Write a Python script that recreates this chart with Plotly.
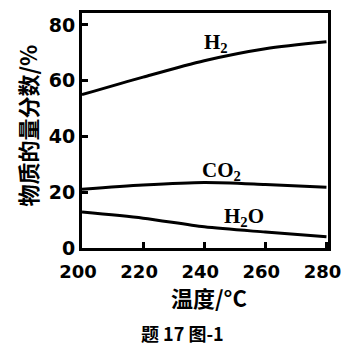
import plotly.graph_objects as go

temps = [200, 220, 240, 260, 280]
h2 = [55, 61.3, 67.2, 71.5, 74]
co2 = [21.1, 22.6, 23.5, 22.8, 21.8]
h2o = [12.9, 10.7, 7.6, 5.7, 4.0]
x_ticks = [200, 220, 240, 260, 280]
y_ticks = [0, 20, 40, 60, 80]

fig = go.Figure()
for ys in (h2, co2, h2o):
    fig.add_trace(go.Scatter(x=temps, y=ys, mode="lines",
                             line=dict(color="black", width=3, shape="spline", smoothing=0.8),
                             showlegend=False, hoverinfo="skip"))

lab_font = dict(family="Liberation Serif", size=21, color="black")
fig.add_annotation(x=243.8, y=73.5, text="<b>H<sub>2</sub></b>", showarrow=False, font=lab_font)
fig.add_annotation(x=245.5, y=27.5, text="<b>CO<sub>2</sub></b>", showarrow=False, font=lab_font)
fig.add_annotation(x=253, y=11, text="<b>H<sub>2</sub>O</b>", showarrow=False, font=lab_font)

fig.add_annotation(xref="paper", yref="paper", x=-0.225, y=0.52, xanchor="center", yanchor="middle",
                   text="<b>物质的量分数/%</b>", textangle=-90, showarrow=False,
                   font=dict(family="Noto Sans CJK SC", size=22, color="black"))
fig.add_annotation(xref="paper", yref="paper", x=0.516, y=-0.21, xanchor="center", yanchor="middle",
                   text="<b>温度/°C</b>", showarrow=False,
                   font=dict(family="Noto Sans CJK SC", size=22, color="black"))
fig.add_annotation(xref="paper", yref="paper", x=0.41, y=-0.36, xanchor="center", yanchor="middle",
                   text="<b>题 17 图-1</b>", showarrow=False,
                   font=dict(family="Noto Sans CJK SC", size=18, color="black"))

tick_font = dict(family="DejaVu Sans", size=18, color="black", weight="bold")
fig.update_xaxes(range=[200, 280.5], tickvals=x_ticks, ticks="inside", ticklen=6, tickwidth=3,
                 tickcolor="black", showline=True, linecolor="black", linewidth=3, mirror=True,
                 showgrid=False, zeroline=False, tickfont=tick_font, automargin=False,
                 ticklabeloverflow="allow", ticklabelshift=-4, ticklabelstandoff=5)
fig.update_yaxes(range=[0, 84.3], tickvals=y_ticks, ticks="inside", ticklen=6, tickwidth=3,
                 tickcolor="black", showline=True, linecolor="black", linewidth=3, mirror=True,
                 showgrid=False, zeroline=False, automargin=False,
                 tickfont=dict(family="DejaVu Sans", size=19, color="black", weight="bold"))
fig.update_layout(width=341, height=348, margin=dict(l=82, r=13, t=13, b=100),
                  plot_bgcolor="white", paper_bgcolor="white")
fig.write_html("out.html")
